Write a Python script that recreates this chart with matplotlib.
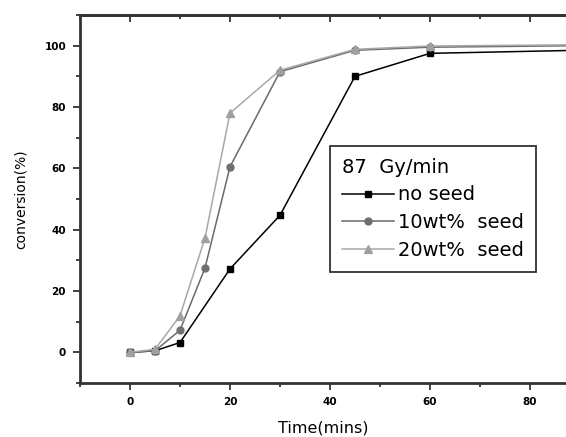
import matplotlib
matplotlib.use("Agg")
import matplotlib.pyplot as plt
from matplotlib.ticker import MultipleLocator, NullFormatter

# time points (mins) and conversion (%)
time = [0, 5, 10, 20, 30, 45, 60, 90]
time_10 = [0, 5, 10, 15, 20, 30, 45, 60, 90]
no_seed = [0, 0.5, 3.2, 27.2, 44.7, 90.0, 97.5, 98.5]
seed_10 = [0, 0.5, 7.2, 27.5, 60.5, 91.5, 98.5, 99.5, 100.0]
seed_20 = [0, 1.0, 11.9, 37.3, 78.0, 92.0, 98.8, 99.9, 100.3]

legend_title = "87  Gy/min"
labels = ["no seed", "10wt%  seed", "20wt%  seed"]

fig = plt.figure(figsize=(5.66, 4.37), dpi=100)
ax = fig.add_axes([80 / 566, 1 - 383 / 437, 1 - 80 / 566, (383 - 15) / 437])

ax.plot(time, no_seed, color="black", lw=1.1, marker="s", ms=4.5,
        mfc="black", mec="black", label=labels[0])
ax.plot(time_10, seed_10, color="#6a6a6a", lw=1.1, marker="o", ms=5,
        mfc="#707070", mec="#707070", label=labels[1])
ax.plot(time_10, seed_20, color="#a8a8a8", lw=1.1, marker="^", ms=6,
        mfc="#a0a0a0", mec="#a0a0a0", label=labels[2])

ax.set_xlim(-10, 87.2)
ax.set_ylim(-10, 110)
ax.xaxis.set_major_locator(MultipleLocator(20))
ax.xaxis.set_minor_locator(MultipleLocator(10))
ax.yaxis.set_major_locator(MultipleLocator(20))
ax.yaxis.set_minor_locator(MultipleLocator(10))

for side in ["left", "bottom", "top"]:
    ax.spines[side].set_linewidth(2)
    ax.spines[side].set_color("#333333")
ax.spines["right"].set_visible(False)

ax.tick_params(axis="both", which="both", direction="out", color="#333333",
               width=1.3, labelsize=7.5, pad=5)
ax.tick_params(which="major", length=5)
ax.tick_params(which="minor", length=3)
for t in ax.get_xticklabels() + ax.get_yticklabels():
    t.set_fontweight("bold")

# top axis: ticks pointing inward, no labels
top = ax.secondary_xaxis("top")
top.xaxis.set_major_locator(MultipleLocator(20))
top.xaxis.set_minor_locator(MultipleLocator(10))
top.xaxis.set_major_formatter(NullFormatter())
top.tick_params(which="both", direction="in", color="#333333", width=1.3)
top.tick_params(which="major", length=5)
top.tick_params(which="minor", length=3)
top.spines["top"].set_linewidth(2)
top.spines["top"].set_color("#333333")

ax.set_xlabel("Time(mins)", fontsize=11.5, labelpad=10)
ax.set_ylabel("conversion(%)", fontsize=10, labelpad=12)

leg = ax.legend(title=legend_title, loc="upper left",
                bbox_to_anchor=(330 / 566, 1 - 146 / 437),
                bbox_transform=fig.transFigure, borderaxespad=0,
                fontsize=14, title_fontsize=14, frameon=True, fancybox=False,
                edgecolor="black", handlelength=2.7, handletextpad=0.2,
                labelspacing=0.45, borderpad=0.6)
leg._legend_box.align = "left"
leg.get_frame().set_linewidth(1.3)

fig.savefig("out.png", dpi=100)
